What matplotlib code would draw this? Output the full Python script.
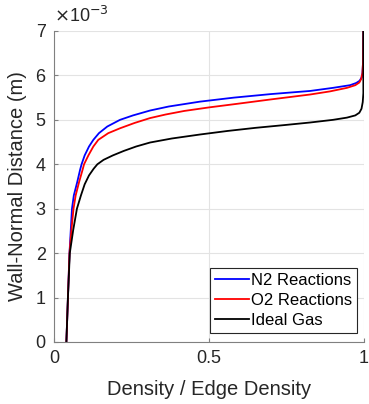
import matplotlib
matplotlib.use('Agg')
import matplotlib.pyplot as plt

plt.rcParams['font.family'] = ['Liberation Sans', 'DejaVu Sans']

# wall-normal distance (x 1e-3 m) and density ratio
n2_y = [0, 1.0, 2.0, 2.5, 3.0, 3.3, 3.6, 3.87, 4.0, 4.2, 4.4, 4.55, 4.7,
        4.85, 5.0, 5.1, 5.21, 5.3, 5.41, 5.5, 5.58, 5.65, 5.72, 5.78, 5.83,
        5.88, 5.95, 6.05, 6.3, 7.0]
n2_x = [0.040, 0.045, 0.050, 0.054, 0.058, 0.064, 0.075, 0.084, 0.089, 0.099,
        0.113, 0.127, 0.145, 0.172, 0.213, 0.255, 0.31, 0.37, 0.471, 0.58,
        0.70, 0.826, 0.9, 0.955, 0.975, 0.986, 0.992, 0.995, 0.997, 0.998]

o2_y = [0, 1.0, 2.0, 2.5, 3.0, 3.3, 3.6, 3.87, 4.0, 4.2, 4.4, 4.55, 4.7,
        4.81, 4.93, 5.04, 5.12, 5.20, 5.28, 5.36, 5.46, 5.57, 5.64, 5.72,
        5.78, 5.84, 5.92, 6.05, 6.3, 7.0]
o2_x = [0.040, 0.045, 0.050, 0.056, 0.063, 0.070, 0.081, 0.092, 0.097, 0.111,
        0.127, 0.143, 0.175, 0.213, 0.26, 0.31, 0.36, 0.42, 0.50, 0.59, 0.70,
        0.826, 0.89, 0.945, 0.972, 0.985, 0.991, 0.995, 0.997, 0.998]

ideal_y = [0, 1.0, 2.0, 2.52, 3.0, 3.3, 3.55, 3.75, 3.9, 4.0, 4.1, 4.2, 4.3,
           4.4, 4.49, 4.58, 4.67, 4.75, 4.82, 4.88, 4.94, 5.0, 5.05, 5.1,
           5.16, 5.25, 5.4, 5.6, 7.0]
ideal_x = [0.040, 0.045, 0.051, 0.062, 0.074, 0.087, 0.099, 0.113, 0.128,
           0.14, 0.16, 0.19, 0.225, 0.265, 0.31, 0.38, 0.471, 0.56, 0.65,
           0.74, 0.826, 0.9, 0.945, 0.972, 0.985, 0.992, 0.996, 0.998, 0.998]

series_names = ['N2 Reactions', 'O2 Reactions', 'Ideal Gas']
x_ticks = [0, 0.5, 1]
x_tick_labels = ['0', '0.5', '1']
y_ticks = [0, 1, 2, 3, 4, 5, 6, 7]

txt = '#262626'
axc = '#808080'

fig = plt.figure(figsize=(3.69, 4.04), dpi=100)
ax = fig.add_axes([0.1463, 0.1535, 0.8401, 0.7698])

ax.plot(n2_x, n2_y, color='#0000ff', lw=1.3, label=series_names[0])
ax.plot(o2_x, o2_y, color='#ff0000', lw=1.3, label=series_names[1])
ax.plot(ideal_x, ideal_y, color='#000000', lw=1.3, label=series_names[2])

ax.set_xlim(0, 1)
ax.set_ylim(0, 7)
ax.set_xticks(x_ticks)
ax.set_xticklabels(x_tick_labels)
ax.set_yticks(y_ticks)
ax.grid(True, color='#e3e3e3', lw=0.8)
ax.set_axisbelow(True)

# box off, grey axes like matlab
ax.spines['top'].set_visible(False)
ax.spines['right'].set_visible(False)
ax.spines['left'].set_color(axc)
ax.spines['bottom'].set_color(axc)
ax.tick_params(direction='in', length=3, color=axc, labelcolor=txt,
               labelsize=13, pad=6)

ax.set_xlabel('Density / Edge Density', fontsize=14.5, color=txt, labelpad=9)
ax.set_ylabel('Wall-Normal Distance (m)', fontsize=14.5, color=txt, labelpad=6)
ax.text(0.0, 1.015, r'$\times$10$^{-3}$', transform=ax.transAxes,
        fontsize=13, color=txt, ha='left', va='bottom')

leg = ax.legend(loc='lower right', bbox_to_anchor=(0.978, 0.028),
                fontsize=12, fancybox=False, framealpha=1, edgecolor=txt,
                handlelength=2.0, handletextpad=0.15, borderpad=0.3,
                labelspacing=0.3, borderaxespad=0)
leg.get_frame().set_linewidth(0.8)

fig.savefig('out.png', dpi=100)
